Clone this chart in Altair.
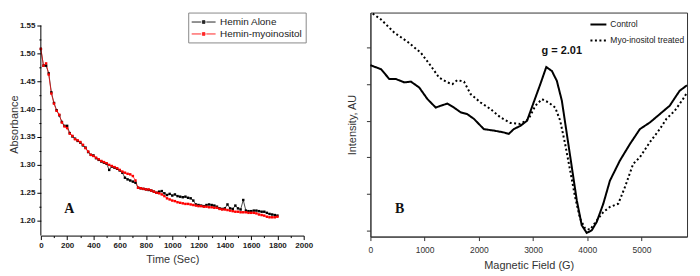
import altair as alt
import pandas as pd

# ---------------- Panel A data ----------------
time_s = list(range(0, 1801, 20))
hemin_alone = [
    1.508, 1.478, 1.478, 1.464, 1.430, 1.411, 1.398, 1.389, 1.377, 1.370,
    1.370, 1.357, 1.351, 1.347, 1.343, 1.340, 1.335, 1.331, 1.323, 1.318,
    1.317, 1.312, 1.309, 1.306, 1.304, 1.302, 1.291, 1.297, 1.295, 1.293,
    1.290, 1.286, 1.277, 1.274, 1.272, 1.270, 1.268, 1.259, 1.258, 1.257,
    1.256, 1.255, 1.254, 1.252, 1.250, 1.252, 1.253, 1.249, 1.246, 1.248,
    1.245, 1.247, 1.244, 1.243, 1.242, 1.243, 1.241, 1.240, 1.236, 1.229,
    1.228, 1.227, 1.226, 1.228, 1.229, 1.228, 1.227, 1.225, 1.222, 1.221,
    1.222, 1.229, 1.222, 1.221, 1.227, 1.222, 1.220, 1.237, 1.218, 1.217,
    1.217, 1.218, 1.218, 1.217, 1.216, 1.216, 1.214, 1.212, 1.211, 1.210,
    1.209,
]
hemin_myo = [
    1.508, 1.478, 1.482, 1.462, 1.428, 1.410, 1.397, 1.390, 1.376, 1.369,
    1.366, 1.356, 1.352, 1.346, 1.344, 1.341, 1.336, 1.330, 1.324, 1.318,
    1.316, 1.313, 1.310, 1.307, 1.305, 1.303, 1.300, 1.298, 1.296, 1.294,
    1.291, 1.288, 1.286, 1.284, 1.283, 1.280, 1.272, 1.259, 1.258, 1.257,
    1.256, 1.256, 1.254, 1.252, 1.250, 1.249, 1.247, 1.244, 1.240, 1.238,
    1.236, 1.235, 1.233, 1.232, 1.231, 1.230, 1.230, 1.229, 1.228, 1.227,
    1.226, 1.226, 1.225, 1.225, 1.224, 1.224, 1.223, 1.223, 1.221, 1.220,
    1.220, 1.219, 1.218, 1.217, 1.216, 1.216, 1.215, 1.215, 1.215, 1.214,
    1.214, 1.214, 1.213, 1.211, 1.210, 1.209, 1.207, 1.206, 1.206, 1.206,
    1.207,
]
series_a = ["Hemin Alone", "Hemin-myoinositol"]
colors_a = ["#000000", "#ff0000"]
a_x_domain = [0, 2000]
a_y_domain = [1.1732, 1.5732]
a_x_ticks = [0, 200, 400, 600, 800, 1000, 1200, 1400, 1600, 1800, 2000]
a_x_minor = [100, 300, 500, 700, 900, 1100, 1300, 1500, 1700, 1900]
a_y_ticks = [1.20, 1.25, 1.30, 1.35, 1.40, 1.45, 1.50, 1.55]
a_y_minor = [1.225, 1.275, 1.325, 1.375, 1.425, 1.475, 1.525]
a_label = ["A"]
a_label_x = [217]
a_label_y = [1.2214]

# ---------------- Panel B data ----------------
field_control = [0, 196, 349, 471, 624, 747, 900, 1053, 1205, 1297, 1420, 1542,
                 1665, 1787, 1910, 2093, 2277, 2460, 2552, 2644, 2766, 2889,
                 3011, 3134, 3244, 3348, 3439, 3531, 3623, 3715, 3807, 3898,
                 3990, 4082, 4174, 4296, 4418, 4602, 4786, 4970, 5153, 5337,
                 5520, 5704, 5839]
control = [4.52, 4.41, 4.14, 4.14, 4.05, 4.07, 3.91, 3.59, 3.36, 3.41, 3.47, 3.36,
           3.23, 3.18, 3.05, 2.77, 2.73, 2.68, 2.64, 2.77, 2.86, 3.00,
           3.50, 4.00, 4.47, 4.36, 4.09, 3.55, 2.64, 1.73, 0.82, 0.14,
           -0.07, 0.00, 0.23, 0.73, 1.36, 1.91, 2.36, 2.77, 2.95, 3.18,
           3.41, 3.82, 3.97]
field_treated = [43, 196, 441, 685, 930, 1114, 1267, 1420, 1512, 1603, 1726, 1848,
                 2032, 2215, 2399, 2583, 2766, 2919, 3042, 3164, 3286, 3409,
                 3501, 3592, 3684, 3776, 3868, 3960, 4052, 4174, 4296, 4418,
                 4572, 4694, 4847, 4970, 5153, 5337, 5459, 5612, 5765, 5839]
treated = [5.93, 5.77, 5.41, 5.16, 4.86, 4.50, 4.18, 4.05, 4.00, 4.11, 4.07, 3.73,
           3.50, 3.32, 3.09, 2.94, 2.91, 3.05, 3.41, 3.59, 3.50, 3.36,
           3.00, 2.36, 1.64, 0.91, 0.32, 0.05, 0.02, 0.27, 0.50, 0.64,
           0.73, 1.18, 1.82, 2.00, 2.41, 2.77, 3.05, 3.27, 3.59, 3.77]
series_b = ["Control", "Myo-inositol treated"]
b_x_domain = [0, 5840]
b_y_domain = [-0.17, 5.96]
b_x_ticks = [0, 1000, 2000, 3000, 4000, 5000]
b_y_ticks = [0, 1, 2, 3, 4, 5]
b_labels = ["B", "g = 2.01"]
b_label_x = [538, 3530]
b_label_y = [0.59, 4.9]

FONT = "Liberation Sans"
SERIF = "Liberation Serif"

# ---------------- Panel A ----------------
dfA = pd.concat([
    pd.DataFrame({"t": time_s, "a": hemin_alone, "series": series_a[0], "o": 0}),
    pd.DataFrame({"t": time_s, "a": hemin_myo, "series": series_a[1], "o": 1}),
], ignore_index=True)

xA_scale = alt.Scale(domain=a_x_domain, nice=False, zero=False)
yA_scale = alt.Scale(domain=a_y_domain, nice=False, zero=False)

legend_path = "M-1,0H0.55M1.45,0H3M0.78,-0.22H1.22V0.22H0.78Z"
colorA = alt.Color(
    "series:N",
    scale=alt.Scale(domain=series_a, range=colors_a),
    legend=alt.Legend(
        title=None, orient="none", legendX=148, legendY=0,
        symbolType=legend_path, symbolSize=144, symbolStrokeWidth=1,
        symbolOpacity=0.85,
        labelFont=FONT, labelFontSize=10, labelColor="#222", labelOffset=16,
        strokeColor="#888", fillColor="white", padding=3, rowPadding=0,
    ),
)

xA_main = alt.X("t:Q", scale=xA_scale, axis=alt.Axis(
    values=a_x_ticks, format="d", title="Time (Sec)", grid=False,
    labelOverlap=False, labelFlush=False,
    tickSize=4, tickColor="black", domainColor="black",
    labelFont=FONT, labelFontWeight="bold", labelFontSize=8, labelColor="#222",
    labelPadding=2, titleFont=FONT, titleFontWeight="normal", titleFontSize=11,
    titleColor="#333", titlePadding=4, orient="bottom"))
yA_main = alt.Y("a:Q", scale=yA_scale, axis=alt.Axis(
    values=a_y_ticks, format=".2f", title="Absorbance", grid=False, domain=False,
    labelOverlap=False, labelFlush=False, tickSize=4, tickColor="black",
    labelFont=FONT, labelFontWeight="bold", labelFontSize=8, labelColor="#222",
    labelPadding=2, titleFont=FONT, titleFontWeight="normal", titleFontSize=11,
    titleColor="#333", titlePadding=0, orient="left"))

baseA = alt.Chart(dfA)
lineA = baseA.mark_line(strokeWidth=0.7).encode(
    x=xA_main, y=yA_main, color=colorA, detail="series:N", order="t:Q")
pointsA = baseA.mark_square(size=6, opacity=1).encode(
    x=alt.X("t:Q", scale=xA_scale, axis=None),
    y=alt.Y("a:Q", scale=yA_scale, axis=None),
    color=colorA, order="o:Q")

axis_df = pd.DataFrame({"t": [a_x_domain[0]], "y0": [a_y_domain[0]], "y1": [a_y_ticks[-1]]})
ruleA = alt.Chart(axis_df).mark_rule(color="black", strokeWidth=1).encode(
    x=alt.X("t:Q", scale=xA_scale, axis=None),
    y=alt.Y("y0:Q", scale=yA_scale, axis=None), y2="y1:Q")

minorA = alt.Chart(axis_df).mark_point(opacity=0).encode(
    x=alt.X("t:Q", scale=xA_scale, axis=alt.Axis(
        values=a_x_minor, labels=False, domain=False, grid=False, tickSize=2,
        tickColor="black", title=None, orient="bottom")),
    y=alt.Y("y0:Q", scale=yA_scale, axis=alt.Axis(
        values=a_y_minor, labels=False, domain=False, grid=False, tickSize=2,
        tickColor="black", title=None, orient="left")))

textA_df = pd.DataFrame({"x": a_label_x, "y": a_label_y, "label": a_label})
textA = alt.Chart(textA_df).mark_text(
    font=SERIF, fontWeight="bold", fontSize=14, color="#111", baseline="middle").encode(
    x=alt.X("x:Q", scale=xA_scale, axis=None),
    y=alt.Y("y:Q", scale=yA_scale, axis=None), text="label:N")

chartA = alt.layer(lineA, pointsA, ruleA, minorA, textA).resolve_axis(
    x="independent", y="independent").properties(width=264, height=224)

# ---------------- Panel B ----------------
dfB = pd.concat([
    pd.DataFrame({"g": field_control, "i": control, "series": series_b[0]}),
    pd.DataFrame({"g": field_treated, "i": treated, "series": series_b[1]}),
], ignore_index=True)

xB_scale = alt.Scale(domain=b_x_domain, nice=False, zero=False)
yB_scale = alt.Scale(domain=b_y_domain, nice=False, zero=False)

lineB = alt.Chart(dfB).mark_line(color="black", strokeWidth=2).encode(
    x=alt.X("g:Q", scale=xB_scale, axis=alt.Axis(
        values=b_x_ticks, format="d", title="Magnetic Field (G)", grid=False,
        labelOverlap=False, labelFlush=False,
        tickSize=4, tickColor="#333", domainColor="#333",
        labelFont=FONT, labelFontSize=8.5, labelColor="#333", labelPadding=5,
        titleFont=FONT, titleFontWeight="normal", titleFontSize=11,
        titleColor="#333", titlePadding=6)),
    y=alt.Y("i:Q", scale=yB_scale, axis=alt.Axis(
        values=b_y_ticks, labels=False, title="Intensity, AU", grid=False,
        tickSize=4, tickColor="#333", domainColor="#333",
        titleFont=FONT, titleFontWeight="normal", titleFontSize=11,
        titleColor="#333", titlePadding=8)),
    strokeDash=alt.StrokeDash("series:N", scale=alt.Scale(
        domain=series_b, range=[[1, 0], [2, 2.5]]), legend=alt.Legend(
        title=None, orient="none", legendX=220, legendY=3,
        symbolType="stroke", symbolSize=256, symbolStrokeWidth=2,
        symbolStrokeColor="black",
        labelFont=FONT, labelFontSize=8.5, labelColor="#222", labelOffset=3,
        rowPadding=2, padding=0)),
    detail="series:N",
    order="g:Q",
)

textB_df = pd.DataFrame({"x": b_label_x, "y": b_label_y, "label": b_labels})
textB1 = alt.Chart(textB_df.iloc[[0]]).mark_text(
    font=SERIF, fontWeight="bold", fontSize=14, color="#111", baseline="middle").encode(
    x="x:Q", y="y:Q", text="label:N")
textB2 = alt.Chart(textB_df.iloc[[1]]).mark_text(
    font=FONT, fontWeight="bold", fontSize=11, color="#111", baseline="middle").encode(
    x="x:Q", y="y:Q", text="label:N")

chartB = alt.layer(lineB, textB1, textB2).properties(
    width=318, height=225,
    view=alt.ViewBackground(stroke="#333", strokeWidth=1))

chart = alt.hconcat(chartA, chartB, spacing=34).resolve_scale(
    color="independent", strokeDash="independent"
).properties(padding=0).configure_view(stroke=None)

chart.save("out.html", embed_options={"renderer": "svg", "actions": False})
